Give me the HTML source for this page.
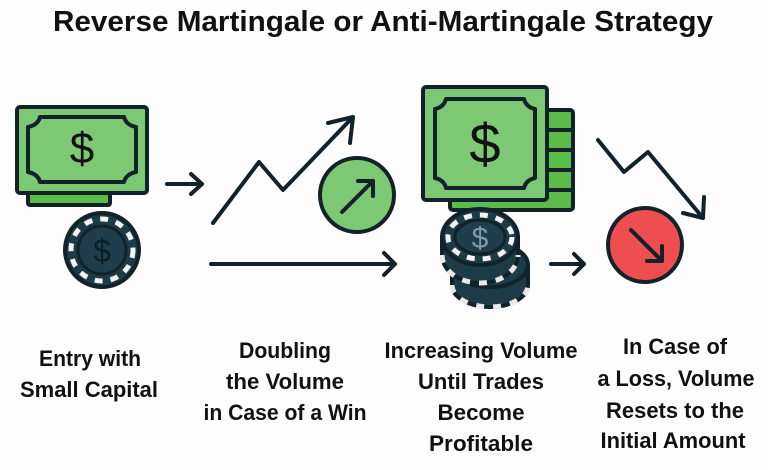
<!DOCTYPE html>
<html><head><meta charset="utf-8"><style>
html,body{margin:0;padding:0;background:#fdfdfd;}
svg{display:block}
text{font-family:"Liberation Sans Narrow","Liberation Sans",sans-serif;font-weight:bold;fill:#111;}
</style></head><body>
<svg width="768" height="470" viewBox="0 0 768 470" xmlns="http://www.w3.org/2000/svg">
<rect width="768" height="470" fill="#fdfdfd"/>
<text x="383" y="31" font-size="29" text-anchor="middle" textLength="660" lengthAdjust="spacingAndGlyphs">Reverse Martingale or Anti-Martingale Strategy</text>

<g stroke="#12222a" stroke-width="4" stroke-linejoin="round" stroke-linecap="round">
<!-- left bill -->
<rect x="28" y="190" width="82" height="15" rx="2" fill="#5dbb4a"/>
<rect x="17" y="107" width="130" height="86" rx="3" fill="#7dc872"/>
<path d="M40 117 H124 Q126 125 136 127 V172 Q126 174 124 182 H40 Q38 174 28 172 V127 Q38 125 40 117 Z" fill="#7dc872"/>
<!-- left chip -->
<circle cx="102" cy="250" r="37" fill="#1d3a47"/>
<circle cx="102" cy="250" r="31" fill="none" stroke="#f3f3f3" stroke-width="5" stroke-dasharray="8 8" stroke-linecap="butt"/>
<circle cx="102" cy="250" r="24" fill="#1f3d4a" stroke-width="3"/>

<!-- arrows -->
<path d="M167 184 H202 M191 174 L202 184 L191 194" fill="none"/>
<path d="M213 223 L259 162 L283 190 L353 117 M328 123 L353 117 L350 143" fill="none"/>
<circle cx="357" cy="195" r="37" fill="#7dc872"/>
<path d="M342 212 L373 181 M358 181 H373 V196" fill="none"/>
<path d="M211 264 H395 M384 253 L395 264 L384 275" fill="none"/>

<!-- right bills -->
<rect x="450" y="110" width="123" height="100" rx="3" fill="#5dbb4a"/>
<path d="M547 130 H573 M547 150 H573 M547 170 H573 M547 190 H573" fill="none"/>
<rect x="423" y="87" width="124" height="113" rx="3" fill="#7dc872"/>
<path d="M446 99 H524 Q526 107 535 109 V178 Q526 180 524 188 H446 Q444 180 435 178 V109 Q444 107 446 99 Z" fill="#7dc872"/>

<!-- chip stack -->
<path d="M452 265 V285 A38 22 0 0 0 528 285 V265" fill="#1d3a47"/>
<ellipse cx="490" cy="265" rx="38" ry="22" fill="#1d3a47"/>
<path d="M452 285 A38 22 0 0 0 528 285" fill="none" stroke="#e8e8e8" stroke-width="5" stroke-dasharray="8 9" stroke-linecap="butt"/>
<path d="M442 237 V255 A38 28 0 0 0 518 255 V237" fill="#1d3a47"/>
<ellipse cx="480" cy="237" rx="38" ry="28" fill="#1d3a47"/>
<path d="M442 255 A38 28 0 0 0 518 255" fill="none" stroke="#e8e8e8" stroke-width="5" stroke-dasharray="8 9" stroke-linecap="butt"/>
<ellipse cx="480" cy="237" rx="32" ry="22" fill="none" stroke="#f3f3f3" stroke-width="5" stroke-dasharray="8 8" stroke-linecap="butt"/>
<ellipse cx="480" cy="237" rx="25" ry="17" fill="#1f3d4a" stroke-width="3"/>

<path d="M551 264 H584 M574 254 L584 264 L574 274" fill="none"/>
<path d="M598 140 L624 172 L648 152 L703 218 M683 213 L703 218 L704 197" fill="none"/>
<circle cx="645" cy="245" r="37" fill="#ef4e50"/>
<path d="M631 230 L662 261 M662 246 V261 H647" fill="none"/>
</g>

<text x="82" y="163" font-size="44" text-anchor="middle" font-family="Liberation Sans" style="font-family:'Liberation Sans';font-weight:normal">$</text>
<text x="102" y="262" font-size="32" text-anchor="middle" style="font-family:'Liberation Sans';font-weight:normal;fill:#0d1e25">$</text>
<text x="485" y="163" font-size="56" text-anchor="middle" style="font-family:'Liberation Sans';font-weight:normal">$</text>
<text x="480" y="248" font-size="30" text-anchor="middle" style="font-family:'Liberation Sans';font-weight:normal;fill:#7f9aa8">$</text>

<g font-size="22" text-anchor="middle">
<text x="90" y="366" textLength="102" lengthAdjust="spacingAndGlyphs">Entry with</text>
<text x="89" y="397" textLength="138" lengthAdjust="spacingAndGlyphs">Small Capital</text>
<text x="285" y="358" textLength="92" lengthAdjust="spacingAndGlyphs">Doubling</text>
<text x="285" y="389" textLength="118" lengthAdjust="spacingAndGlyphs">the Volume</text>
<text x="285" y="420" textLength="163" lengthAdjust="spacingAndGlyphs">in Case of a Win</text>
<text x="481" y="358" textLength="193" lengthAdjust="spacingAndGlyphs">Increasing Volume</text>
<text x="481" y="389" textLength="126" lengthAdjust="spacingAndGlyphs">Until Trades</text>
<text x="481" y="420" textLength="87" lengthAdjust="spacingAndGlyphs">Become</text>
<text x="481" y="451" textLength="104" lengthAdjust="spacingAndGlyphs">Profitable</text>
<text x="675" y="354" textLength="104" lengthAdjust="spacingAndGlyphs">In Case of</text>
<text x="676" y="386" textLength="157" lengthAdjust="spacingAndGlyphs">a Loss, Volume</text>
<text x="675" y="418" textLength="138" lengthAdjust="spacingAndGlyphs">Resets to the</text>
<text x="673" y="448" textLength="145" lengthAdjust="spacingAndGlyphs">Initial Amount</text>
</g>
</svg>
</body></html>
